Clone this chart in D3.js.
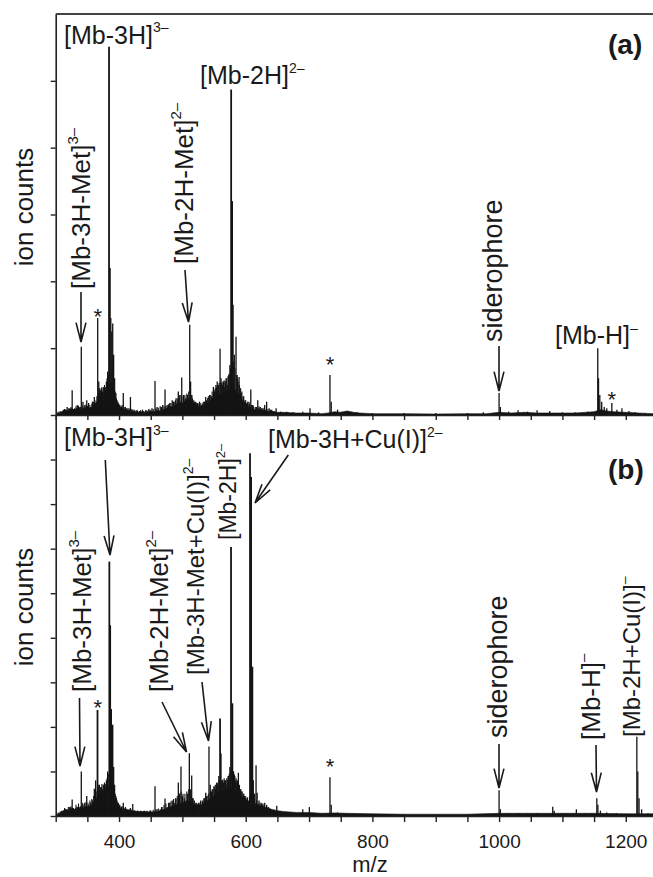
<!DOCTYPE html>
<html><head><meta charset="utf-8">
<script src="https://cdn.jsdelivr.net/npm/d3@7"></script>
<style>
body{margin:0;background:#fff}
svg{display:block}
text{font-family:"Liberation Sans",Arial,Helvetica,sans-serif;fill:#1a1a1a}
</style>
</head><body>
<svg id="c" width="653" height="877"></svg>
<script>
// ---------------- data ----------------
// panel (a) stick peaks
const peaksA_mz = [312,318,322,326,330,334,337,340.4,343,346,349,352,355,358,361,363,366.3,368,370,372,374,376,378,380,382,384.2,385.5,387,388.5,390,391.5,393,395,398,401,404,406.7,410,414,418,422,427,432,437,442,447,452,456.8,460,465,469,472.6,476,480,484,487,490,493.6,496,499,502,505,508,511.6,513,515,518,521,524,527,530,533,536.8,540,543,546,548.9,551,553,555,557,559.5,561,563,565,567,569,571.6,573,575,577,578.5,580,582,584.7,586.5,589.5,591,593,596,599,602,605,608,611,615,619,623,627,630,633,637,641,648,655,665,675,690,701.5,715,733,735,745,752,760,775,800,850,900,950,975,1000,1002,1015,1030,1045,1060,1080,1100,1120,1140,1155.8,1157,1159,1162,1166,1170,1178,1186,1194,1205,1215,1230];
const peaksA_int = [0.08,0.12,0.1,0.37,0.1,0.15,0.12,1.02,0.2,0.15,0.22,0.18,0.12,0.2,0.27,0.18,1.45,0.5,0.38,0.4,0.35,0.42,0.38,0.5,0.65,5.51,2.2,1.45,1.25,1.37,0.9,0.55,0.33,0.2,0.15,0.12,0.33,0.12,0.1,0.27,0.08,0.07,0.06,0.08,0.07,0.09,0.1,0.51,0.12,0.13,0.15,0.38,0.15,0.18,0.22,0.2,0.25,0.35,0.3,0.56,0.3,0.25,0.3,1.35,0.5,0.3,0.22,0.2,0.18,0.2,0.15,0.2,0.27,0.25,0.3,0.28,0.42,0.35,0.45,0.5,0.45,0.99,0.55,0.45,0.5,0.42,0.55,0.45,0.6,0.75,4.87,3.2,1.65,0.9,1.17,0.6,0.57,0.4,0.33,0.28,0.22,0.18,0.2,0.38,0.15,0.12,0.22,0.12,0.1,0.15,0.2,0.1,0.08,0.1,0.05,0.05,0.04,0.05,0.1,0.04,0.6,0.2,0.08,0.05,0.06,0.04,0.03,0.03,0.03,0.03,0.04,0.33,0.12,0.05,0.07,0.05,0.07,0.06,0.04,0.04,0.05,1.0,0.55,0.3,0.2,0.12,0.1,0.18,0.08,0.1,0.06,0.04,0.03];
// panel (a) minor peaks (grass)
const minorA_mz  = [302,304,307,309,314,316,320,324,328,332,336,339,342,345,348,351,354,357,360,362,365,367,369,371,373,375,377,379,381,383,389,392,394,396,397,399,400,403,405,408,412,416,420,424,429,434,439,444,449,454,458,462,467,471,474,478,482,486,489,492,495,498,501,504,507,510,514,516,519,522,526,529,532,535,538,541,544,547,550,552,554,556,558,560,562,564,566,568,570,572,574,576,579,581,583,585,587,588,590,592,594,597,600,603,606,609,612,617,621,625,629,635,639,645];
const minorA_int = [0.04,0.05,0.06,0.05,0.09,0.07,0.1,0.12,0.09,0.13,0.14,0.12,0.14,0.13,0.16,0.14,0.15,0.17,0.2,0.22,0.28,0.32,0.4,0.36,0.42,0.4,0.45,0.42,0.55,0.6,0.8,0.45,0.35,0.25,0.22,0.18,0.16,0.14,0.15,0.12,0.1,0.1,0.09,0.08,0.07,0.07,0.06,0.07,0.08,0.09,0.1,0.11,0.12,0.13,0.14,0.16,0.18,0.2,0.22,0.25,0.28,0.3,0.28,0.3,0.32,0.35,0.3,0.25,0.2,0.18,0.17,0.18,0.17,0.2,0.22,0.28,0.3,0.35,0.38,0.4,0.42,0.45,0.48,0.5,0.48,0.5,0.52,0.5,0.55,0.58,0.62,0.7,1.1,0.8,0.7,0.6,0.55,0.5,0.45,0.4,0.35,0.28,0.22,0.2,0.17,0.15,0.14,0.12,0.13,0.1,0.11,0.09,0.08,0.06];
// panel (a) background (unresolved signal)
const baseA_mz  = [300,305,310,315,320,325,330,335,340,345,350,355,360,365,368,372,376,380,384,388,392,396,400,405,410,415,420,425,430,435,440,445,450,455,460,465,470,475,480,485,490,495,500,505,510,515,520,525,530,535,540,545,550,555,560,565,570,575,580,585,590,595,600,605,610,615,620,625,630,635,640,650,660,680,700,720,730,740,750,760,770,780,800,850,900,950,980,1000,1020,1040,1060,1080,1100,1120,1150,1160,1170,1180,1200,1220,1243];
const baseA_int = [0.0,0.03,0.05,0.08,0.06,0.1,0.07,0.12,0.08,0.1,0.13,0.09,0.15,0.2,0.3,0.35,0.3,0.38,0.45,0.5,0.3,0.18,0.12,0.1,0.08,0.07,0.06,0.05,0.04,0.05,0.04,0.05,0.06,0.05,0.07,0.06,0.08,0.1,0.13,0.12,0.16,0.2,0.18,0.22,0.25,0.2,0.15,0.13,0.12,0.14,0.18,0.22,0.28,0.3,0.32,0.3,0.35,0.4,0.42,0.35,0.3,0.22,0.18,0.12,0.1,0.08,0.1,0.06,0.08,0.05,0.06,0.04,0.04,0.03,0.03,0.02,0.03,0.05,0.04,0.06,0.04,0.03,0.02,0.02,0.015,0.02,0.02,0.04,0.03,0.04,0.03,0.03,0.03,0.03,0.05,0.08,0.06,0.05,0.04,0.03,0.02];

// panel (b) stick peaks
const peaksB_mz = [312,318,322,326,330,334,337,340.4,343,346,349,352,355,358,361,363,366,368,370,372,374,376,378,380,382,384.7,386,387.5,389.7,391.5,393,395,398,401,404,406.7,410,414,418,421.6,425,430,435,440,445,450,456.8,460,465,468,472.6,476,480,484,487,490,493.6,495.5,497.8,500,503,506,508,511,512.5,514.7,517,520,523,526,529,532,534,536.8,539,542,544,546,548,550,552,554,556,557.5,559.5,561,563,565,567,569,571.6,573,575,576.8,578.9,580.5,582,584,586,588.4,590,592,594,596,598,600,602,604,606.8,608.5,610.5,612,614,616.3,618,621,624,627,630,633,636,640,644,649,655,665,675,690,700.5,710,720,733,735,745,755,770,800,850,900,950,980,1000,1002,1015,1030,1045,1060,1084.7,1087,1100,1122,1135,1154.3,1156,1160,1170,1185,1200,1217.5,1219,1221,1225,1235];
const peaksB_int = [0.1,0.15,0.2,0.37,0.15,0.2,0.15,1.0,0.25,0.3,0.45,0.25,0.3,0.35,0.61,0.8,2.38,0.7,0.6,0.65,0.6,0.7,0.65,0.8,1.0,5.71,4.28,2.4,2.05,1.1,0.7,0.45,0.3,0.25,0.2,0.3,0.2,0.15,0.18,0.27,0.12,0.12,0.1,0.12,0.1,0.12,0.67,0.15,0.15,0.2,0.39,0.2,0.3,0.35,0.3,0.4,0.75,0.5,1.11,0.45,0.4,0.35,0.5,1.41,0.6,0.91,0.4,0.3,0.28,0.3,0.35,0.32,0.4,0.52,0.45,1.56,0.7,0.55,0.6,0.67,0.6,0.75,0.7,0.9,2.19,1.4,0.8,0.75,0.8,0.7,0.82,0.9,1.1,6.04,2.53,1.0,0.93,0.8,0.75,0.97,0.7,0.6,0.55,0.5,0.45,0.4,0.4,0.35,8.14,7.61,3.35,0.8,0.5,1.14,0.52,0.35,0.3,0.28,0.3,0.25,0.2,0.15,0.12,0.23,0.1,0.08,0.07,0.15,0.2,0.06,0.05,0.87,0.25,0.08,0.06,0.05,0.04,0.04,0.03,0.04,0.04,0.58,0.15,0.06,0.07,0.06,0.07,0.21,0.12,0.06,0.15,0.06,0.4,0.25,0.12,0.08,0.06,0.05,1.78,1.0,0.4,0.15,0.06];
// panel (b) minor peaks (grass)
const minorB_mz  = [302,304,307,309,314,316,320,324,328,332,336,339,342,345,348,351,354,357,360,362,365,367,369,371,373,375,377,379,381,383,389,392,394,396,397,399,400,403,405,408,412,416,420,424,429,434,439,444,449,454,458,462,467,471,474,478,482,486,489,492,495,498,501,504,507,510,514,516,519,522,526,529,532,535,538,541,544,547,550,552,554,556,558,560,562,564,566,568,570,572,574,576,579,581,583,585,587,588,590,592,594,597,600,603,606,609,612,617,621,625,629,635,639,645];
const minorB_int = [0.06,0.08,0.1,0.12,0.18,0.15,0.2,0.22,0.18,0.25,0.28,0.22,0.3,0.28,0.32,0.3,0.35,0.38,0.45,0.5,0.55,0.6,0.7,0.65,0.72,0.7,0.75,0.72,0.85,0.95,1.2,0.7,0.5,0.4,0.35,0.3,0.25,0.22,0.22,0.18,0.16,0.15,0.14,0.13,0.12,0.12,0.11,0.12,0.13,0.14,0.15,0.17,0.2,0.25,0.28,0.3,0.33,0.38,0.4,0.45,0.5,0.55,0.5,0.5,0.55,0.6,0.5,0.4,0.35,0.3,0.3,0.32,0.35,0.4,0.45,0.5,0.55,0.6,0.65,0.7,0.72,0.75,0.8,0.85,0.8,0.82,0.85,0.8,0.85,0.9,0.95,1.0,1.3,1.0,0.9,0.85,0.8,0.75,0.65,0.6,0.55,0.5,0.45,0.42,0.45,0.5,0.45,0.35,0.3,0.28,0.25,0.2,0.17,0.14];
const baseB_mz  = [300,305,310,315,320,325,330,335,340,345,350,355,360,365,370,375,380,385,390,395,400,405,410,420,430,440,450,460,470,480,490,500,510,520,530,540,550,560,570,580,590,600,610,620,630,640,650,660,680,700,720,740,760,800,850,900,950,1000,1050,1100,1150,1200,1243];
const baseB_int = [0.0,0.05,0.1,0.15,0.12,0.18,0.15,0.2,0.18,0.2,0.22,0.2,0.3,0.4,0.5,0.55,0.6,0.7,0.5,0.3,0.2,0.15,0.14,0.12,0.1,0.1,0.09,0.1,0.14,0.2,0.25,0.3,0.35,0.25,0.25,0.35,0.45,0.55,0.6,0.62,0.5,0.35,0.3,0.25,0.2,0.15,0.12,0.1,0.08,0.08,0.06,0.07,0.06,0.05,0.04,0.04,0.04,0.06,0.06,0.06,0.06,0.05,0.05];

// axis ticks
const xTickValues = [300,350,400,450,500,550,600,650,700,750,800,850,900,950,1000,1050,1100,1150,1200];
const xTickLabels = [400,600,800,1000,1200];
const yTicksA = [0,1,2,3,4,5];
const yTicksB = [0,1,2,3,4,5,6,7,8];

// ---------------- layout ----------------
const W = 653, H = 877;
const L = 55.7, R = 653;
const topA = 14, botA = 415, topB = 415, botB = 816;
const svg = d3.select("#c");
svg.append("rect").attr("width",W).attr("height",H).attr("fill","#fff");

const x = d3.scaleLinear().domain([300,1243]).range([L,R]);
const yA = d3.scaleLinear().domain([0,6]).range([botA,topA]);
const yB = d3.scaleLinear().domain([0,9]).range([botB,topB]);

const INK = "#141414";

function drawPanel(bmz, bint, mmz, mint, pmz, pint, y){
  const g = svg.append("g");
  const base = bmz.map((m,i)=>[m,bint[i]]);
  g.append("path").datum(base)
    .attr("d", d3.area().x(d=>x(d[0])).y0(y(0)).y1(d=>y(d[1])))
    .attr("fill",INK).attr("stroke",INK).attr("stroke-width",0.6);
  const mn = mmz.map((m,i)=>[m,mint[i]]);
  g.selectAll("line.mn").data(mn).enter().append("line")
    .attr("class","mn")
    .attr("x1",d=>x(d[0])).attr("x2",d=>x(d[0]))
    .attr("y1",y(0)).attr("y2",d=>y(d[1]))
    .attr("stroke",INK).attr("stroke-width",1.1);
  const pk = pmz.map((m,i)=>[m,pint[i]]);
  g.selectAll("line.pk").data(pk).enter().append("line")
    .attr("class","pk")
    .attr("x1",d=>x(d[0])).attr("x2",d=>x(d[0]))
    .attr("y1",y(0)).attr("y2",d=>y(d[1]))
    .attr("stroke",INK).attr("stroke-width",d=>d[1]>2?1.8:1.3);
}
drawPanel(baseA_mz, baseA_int, minorA_mz, minorA_int, peaksA_mz, peaksA_int, yA);
drawPanel(baseB_mz, baseB_int, minorB_mz, minorB_int, peaksB_mz, peaksB_int, yB);

// axes
function styleAxis(g){
  g.selectAll("path.domain").attr("stroke","#222").attr("stroke-width",1.6);
  g.selectAll(".tick line").attr("stroke","#222").attr("stroke-width",1.4);
}
const axA = svg.append("g").attr("transform",`translate(${L},0)`)
  .call(d3.axisLeft(yA).tickValues(yTicksA).tickSize(5).tickSizeOuter(0).tickFormat(""));
styleAxis(axA);
const axB = svg.append("g").attr("transform",`translate(${L},0)`)
  .call(d3.axisLeft(yB).tickValues(yTicksB).tickSize(5).tickSizeOuter(0).tickFormat(""));
styleAxis(axB);
const axXA = svg.append("g").attr("transform",`translate(0,${botA})`)
  .call(d3.axisBottom(x).tickValues(xTickValues).tickSize(5).tickSizeOuter(0).tickFormat(""));
styleAxis(axXA);
const axXB = svg.append("g").attr("transform",`translate(0,${botB})`)
  .call(d3.axisBottom(x).tickValues(xTickValues).tickSize(6).tickSizeOuter(0)
    .tickFormat(d=>xTickLabels.includes(d)?d:""));
styleAxis(axXB);
axXB.selectAll(".tick text").attr("font-size",19).attr("fill","#1a1a1a")
  .attr("font-family",'"Liberation Sans",Arial,sans-serif').attr("dy",null).attr("y",32);

// top frame
svg.append("line").attr("x1",L).attr("x2",R).attr("y1",topA).attr("y2",topA)
  .attr("stroke","#444").attr("stroke-width",2);

// axis titles
svg.append("text").attr("transform","translate(33,207) rotate(-90)")
  .attr("text-anchor","middle").attr("font-size",26).text("ion counts");
svg.append("text").attr("transform","translate(33,607) rotate(-90)")
  .attr("text-anchor","middle").attr("font-size",26).text("ion counts");
svg.append("text").attr("x",370).attr("y",872.3).attr("text-anchor","middle")
  .attr("font-size",22).text("m/z");

// panel letters
svg.append("text").attr("x",608).attr("y",54).attr("font-size",28).attr("font-weight","bold").text("(a)");
svg.append("text").attr("x",608).attr("y",479).attr("font-size",28).attr("font-weight","bold").text("(b)");

// labels
function label(t, sup, px, py, rot, fs){
  const sfs = Math.round(fs*0.58);
  const tx = svg.append("text").attr("font-size",fs)
    .attr("transform", rot ? `translate(${px},${py}) rotate(-90)` : `translate(${px},${py})`);
  tx.append("tspan").text(t);
  if (sup) tx.append("tspan").attr("font-size",sfs).attr("dy",-fs*0.46).text(sup);
}
label("[Mb-3H]","3–",64,43.5,false,25);
label("[Mb-2H]","2–",200,84,false,25);
label("[Mb-3H-Met]","3–",90,289,true,26);
label("[Mb-2H-Met]","2–",193,264,true,26);
label("siderophore",null,502,342,true,27);
label("[Mb-H]","–",555,344,false,25);

label("[Mb-3H]","3–",64,446,false,25);
label("[Mb-3H+Cu(I)]","2–",268,448,false,25);
label("[Mb-3H-Met]","3–",91,692,true,26);
label("[Mb-2H-Met]","2–",168,692,true,26);
label("[Mb-3H-Met+Cu(I)]","2–",204,675,true,24);
label("[Mb-2H]","2–",236,540,true,23);
label("siderophore",null,507,738,true,27);
label("[Mb-H]","–",600,740,true,26);
label("[Mb-2H+Cu(I)]","–",640,737,true,24);

// asterisks
function star(cx, cy){
  svg.append("text").attr("x",cx).attr("y",cy+12).attr("text-anchor","middle")
    .attr("font-size",22).text("*");
}
star(97.7,312); star(330,360); star(611.7,395);
star(97.7,703); star(330,762);

// arrows
function arrow(x1,y1,x2,y2){
  const a = Math.atan2(y2-y1,x2-x1), hl = 20, hw = 0.25;
  const p1 = [x2-hl*Math.cos(a-hw), y2-hl*Math.sin(a-hw)];
  const p2 = [x2-hl*Math.cos(a+hw), y2-hl*Math.sin(a+hw)];
  svg.append("path")
    .attr("d",`M${x1},${y1}L${x2},${y2}M${p1[0]},${p1[1]}L${x2},${y2}L${p2[0]},${p2[1]}`)
    .attr("fill","none").attr("stroke","#1a1a1a").attr("stroke-width",1.6);
}
arrow(81,292,81,342);
arrow(185,270,188.5,322);
arrow(499,346,499,391);
arrow(105.3,460,110,555);
arrow(288.3,455,255,503);
arrow(79.5,698,80,766);
arrow(162,702,186.5,752);
arrow(202,682,208.5,741);
arrow(499,744,499,788);
arrow(596,745,596.5,792);
</script>
</body></html>
